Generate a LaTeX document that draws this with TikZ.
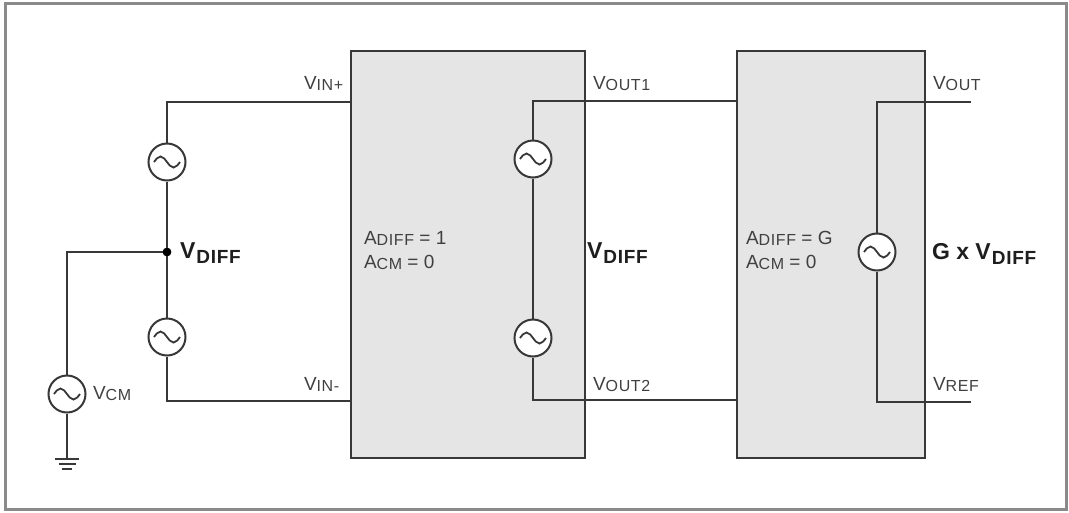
\documentclass[tikz,border=0pt]{standalone}
\usepackage{fontspec}
\setmainfont{Liberation Sans}
\definecolor{wire}{HTML}{383838}
\definecolor{boxfill}{HTML}{E5E5E5}
\definecolor{framec}{HTML}{8A8A8A}
\definecolor{txt}{HTML}{404040}
\definecolor{btxt}{HTML}{1E1E1E}
\newcommand{\lab}[2]{{\fontsize{19}{19}\selectfont #1}\raisebox{-1pt}{\addfontfeature{LetterSpace=4}\fontsize{16}{16}\selectfont #2}}
\newcommand{\blab}[2]{{\bfseries\fontsize{23}{23}\selectfont #1\hspace{1pt}}\raisebox{-5pt}{\bfseries\addfontfeature{LetterSpace=4}\fontsize{19}{19}\selectfont #2}}
\newcommand{\reg}[1]{{\fontsize{19}{19}\selectfont #1}}
\begin{document}
\begin{tikzpicture}[x=1pt,y=-1pt,
  wireline/.style={draw=wire, line width=2.2pt},
  blk/.style={draw=wire, line width=2.2pt, fill=boxfill, rectangle, inner sep=0pt},
  src/.style={circle, draw=wire, line width=2pt, fill=white, minimum size=37pt, inner sep=0pt,
    path picture={\draw[wire, line width=1.8pt] ([xshift=-13pt]path picture bounding box.center)
      sin ++(6.5pt,5.5pt) cos ++(6.5pt,-5.5pt) sin ++(6.5pt,-5.5pt) cos ++(6.5pt,5.5pt);}},
  lbl/.style={anchor=base west, inner sep=0pt, outer sep=0pt, text=txt},
  blbl/.style={anchor=base west, inner sep=0pt, outer sep=0pt, text=btxt},
  dotn/.style={circle, fill=black, minimum size=8.5pt, inner sep=0pt}
]
\useasboundingbox (0,0) rectangle (1069,512);
\draw[framec, line width=3pt] (5.5,3) rectangle (1066,509);

% blocks
\node[blk, minimum width=234pt, minimum height=407pt] (b1) at (468,254.5) {};
\node[blk, minimum width=188pt, minimum height=407pt] (b2) at (831,254.5) {};

% coordinates
\coordinate (inp) at (351,102);
\coordinate (inn) at (351,401);
\coordinate (o1) at (737,101);
\coordinate (o2) at (737,400);
\coordinate (vout) at (971,102);
\coordinate (vref) at (971,402);
\coordinate (gnd) at (67,459);

% sources
\node[dotn] (dot) at (167,252) {};
\node[src] (s1) at (167,162) {};
\node[src] (s2) at (167,337) {};
\node[src] (scm) at (67,394) {};
\node[src] (s3) at (533,159) {};
\node[src] (s4) at (533,338) {};
\node[src] (s5) at (877,252) {};

% wires
\draw[wireline] (s1.north) |- (inp);
\draw[wireline] (s1.south) -- (dot.center);
\draw[wireline] (dot.center) -- (s2.north);
\draw[wireline] (s2.south) |- (inn);
\draw[wireline] (dot.center) -| (scm.north);
\draw[wireline] (scm.south) -- (gnd);
\draw[wireline] (s3.north) |- (o1);
\draw[wireline] (s3.south) -- (s4.north);
\draw[wireline] (s4.south) |- (o2);
\draw[wireline] (s5.north) |- (vout);
\draw[wireline] (s5.south) |- (vref);
\node[dotn] at (dot) {};

% ground
\draw[wireline] ([xshift=-12pt]gnd) -- ([xshift=12pt]gnd);
\draw[wireline] ([xshift=-8.5pt,yshift=-5pt]gnd) -- ([xshift=8.5pt,yshift=-5pt]gnd);
\draw[wireline] ([xshift=-5pt,yshift=-10pt]gnd) -- ([xshift=5pt,yshift=-10pt]gnd);

% labels
\node[lbl] (lvinp) at (304,89) {\lab{V}{IN+}};
\node[lbl] (lvinn) at (304,390) {\lab{V}{IN-}};
\node[lbl] (lvo1) at (593,89) {\lab{V}{OUT1}};
\node[lbl] (lvo2) at (593,390) {\lab{V}{OUT2}};
\node[lbl] (lvout) at (933,89) {\lab{V}{OUT}};
\node[lbl] (lvref) at (933,390) {\lab{V}{REF}};
\node[lbl] (lvcm) at (93,399) {\lab{V}{CM}};
\node[lbl] (la1) at (364,244) {\lab{A}{DIFF}\reg{ = 1}};
\node[lbl] (la2) at (364,268) {\lab{A}{CM}\reg{ = 0}};
\node[lbl] (la3) at (746,244) {\lab{A}{DIFF}\reg{ = G}};
\node[lbl] (la4) at (746,268) {\lab{A}{CM}\reg{ = 0}};
\node[blbl] (ld1) at (180,258) {\blab{V}{DIFF}};
\node[blbl] (ld2) at (587,258) {\blab{V}{DIFF}};
\node[blbl] (ld3) at (932,259) {{\bfseries\fontsize{23}{23}\selectfont G x }\blab{V}{DIFF}};
\end{tikzpicture}
\end{document}
